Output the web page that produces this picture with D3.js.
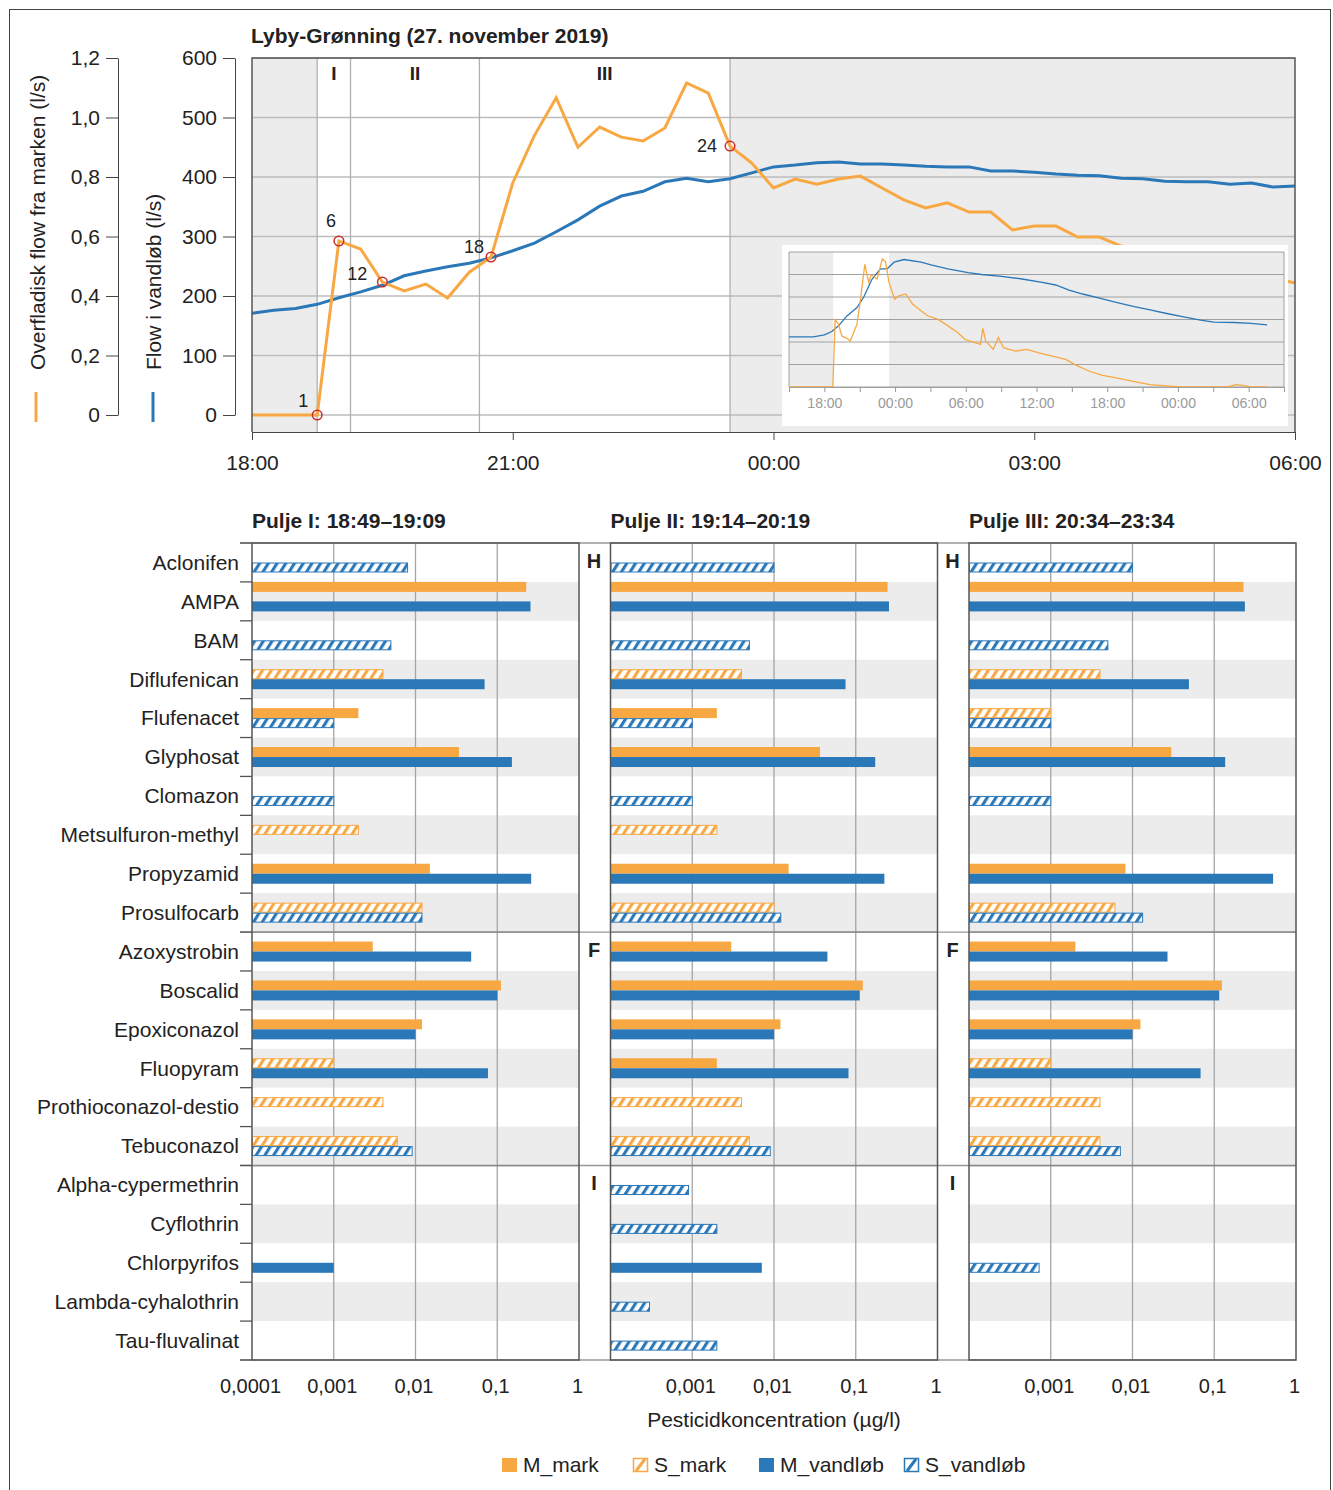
<!DOCTYPE html>
<html>
<head>
<meta charset="utf-8">
<title>Lyby-Grønning (27. november 2019)</title>
<script src="https://d3js.org/d3.v7.min.js"></script>
<style>
  body { margin: 0; background: #fff; }
  svg { font-family: "Liberation Sans", Arial, sans-serif; }
  svg text { fill: #222; }
  .axis path, .axis line { stroke: #444; }
  .inset-axis line { stroke: #999; }
  .inset-axis text { fill: #999; }
</style>
</head>
<body>
<div id="chart"></div>
<script>
// ---- top chart: 15 min values from 18:00 (27 nov) to 06:00 (28 nov)
const flowStart = new Date(2019, 10, 27, 18, 0);
const stepMinutes = 15;
// Overfladisk flow fra marken (l/s)
const markFlow = [0, 0, 0, 0, 0.585, 0.558, 0.447, 0.417, 0.44, 0.393, 0.48, 0.531,
  0.78, 0.94, 1.066, 0.90, 0.968, 0.934, 0.921, 0.965, 1.116, 1.082, 0.904, 0.847,
  0.763, 0.793, 0.776, 0.793, 0.803, 0.763, 0.723, 0.696, 0.713, 0.682, 0.682, 0.622,
  0.635, 0.635, 0.598, 0.598, 0.568, 0.55, 0.54, 0.52, 0.51, 0.49, 0.48, 0.46, 0.444];
// Flow i vandløb (l/s)
const streamFlow = [171, 176, 179, 186, 197, 207, 218, 234, 242, 249, 255, 264,
  276, 289, 308, 328, 351, 368, 376, 392, 398, 392, 397, 407,
  417, 420, 424, 425, 422, 422, 420, 418, 417, 417, 410, 410,
  408, 405, 403, 402, 398, 397, 393, 392, 392, 388, 390, 383, 385];

const sampleTimes = ["18:45", "19:00", "19:30", "20:45", "23:30"];
const sampleLabels = ["1", "6", "12", "18", "24"];
const poolEdges = ["18:45", "19:08", "20:37", "23:30"];
const poolNames = ["I", "II", "III"];
const leftTicks = [0, 0.2, 0.4, 0.6, 0.8, 1.0, 1.2];
const rightTicks = [0, 100, 200, 300, 400, 500, 600];

// ---- inset: hours after 27 nov 00:00
const insetStreamHours = [15, 17.07, 18, 18.63, 19.2, 19.92, 20.77, 21.33, 22.05, 22.77, 23.33, 23.92,
  24.77, 26.2, 27.05, 28.48, 30.2, 31.33, 33.05, 34.77, 36.48, 37.63, 38.77, 39.92,
  41.35, 42.77, 44.2, 45.63, 47.05, 48.48, 49.92, 51.05, 52.77, 54.2, 55.57];
const insetStreamFlow = [167, 167, 174, 185, 204, 237, 265, 299, 360, 394, 394, 416,
  425, 416, 407, 394, 381, 375, 369, 360, 349, 340, 323, 310,
  296, 282, 269, 257, 245, 234, 223, 216, 215, 212, 207];
const insetMarkHours = [15, 18.72, 18.92, 19.2, 19.48, 19.92, 20.2, 20.77, 21.05, 21.43, 21.77, 21.97,
  22.48, 22.92, 23.2, 23.48, 23.97, 24.33, 24.92, 25.48, 26.2, 26.77, 27.62, 28.48,
  29.33, 29.92, 30.77, 31.25, 31.45, 31.68, 32.33, 32.77, 33.2, 34.2, 35.2, 36.2,
  37.33, 38.48, 39.33, 40.48, 41.62, 42.77, 44.2, 45.63, 47.63, 48.48, 52.2, 52.92,
  53.48, 54.2, 55.57];
const insetMarkFlow = [0, 0, 0.597, 0.558, 0.454, 0.433, 0.41, 0.558, 0.767, 1.09, 0.93, 0.997,
  0.96, 1.14, 1.11, 0.93, 0.78, 0.81, 0.827, 0.737, 0.678, 0.633, 0.603, 0.543,
  0.483, 0.424, 0.394, 0.379, 0.522, 0.409, 0.334, 0.439, 0.349, 0.319, 0.334, 0.304,
  0.275, 0.245, 0.194, 0.14, 0.104, 0.081, 0.051, 0.021, 0.006, 0, 0, 0.021,
  0.015, 0, 0];

// ---- bar panels
const compounds = ["Aclonifen", "AMPA", "BAM", "Diflufenican", "Flufenacet", "Glyphosat",
  "Clomazon", "Metsulfuron-methyl", "Propyzamid", "Prosulfocarb", "Azoxystrobin", "Boscalid",
  "Epoxiconazol", "Fluopyram", "Prothioconazol-destio", "Tebuconazol", "Alpha-cypermethrin",
  "Cyflothrin", "Chlorpyrifos", "Lambda-cyhalothrin", "Tau-fluvalinat"];
const groupNames = ["H", "F", "I"];
const groupStarts = ["Aclonifen", "Azoxystrobin", "Alpha-cypermethrin"];
const poolTitles = ["Pulje I: 18:49–19:09", "Pulje II: 19:14–20:19", "Pulje III: 20:34–23:34"];
const concTicks = [0.0001, 0.001, 0.01, 0.1, 1];
const seriesKeys = ["M_mark", "S_mark", "M_vandløb", "S_vandløb"];

const n = null;
const pool1MMark = [n, 0.226, n, n, 0.002, 0.034, n, n, 0.015, n, 0.003, 0.111, 0.012, n, n, n, n, n, n, n, n];
const pool1SMark = [n, n, n, 0.004, n, n, n, 0.002, n, 0.012, n, n, n, 0.001, 0.004, 0.006, n, n, n, n, n];
const pool1MVand = [n, 0.255, n, 0.07, n, 0.151, n, n, 0.26, n, 0.048, 0.1, 0.01, 0.077, n, n, n, n, 0.001, n, n];
const pool1SVand = [0.008, n, 0.005, n, 0.001, n, 0.001, n, n, 0.012, n, n, n, n, n, 0.0091, n, n, n, n, n];

const pool2MMark = [n, 0.245, n, n, 0.002, 0.0365, n, n, 0.0151, n, 0.003, 0.122, 0.012, 0.002, n, n, n, n, n, n, n];
const pool2SMark = [n, n, n, 0.004, n, n, n, 0.002, n, 0.01, n, n, n, n, 0.004, 0.005, n, n, n, n, n];
const pool2MVand = [n, 0.255, n, 0.075, n, 0.173, n, n, 0.224, n, 0.045, 0.112, 0.01, 0.0815, n, n, n, n, 0.0071, n, n];
const pool2SVand = [0.01, n, 0.005, n, 0.001, n, 0.001, n, n, 0.0121, n, n, n, n, n, 0.009, 0.0009, 0.002, n, 0.0003, 0.002];

const pool3MMark = [n, 0.228, n, n, n, 0.0298, n, n, 0.0082, n, 0.002, 0.124, 0.0125, n, n, n, n, n, n, n, n];
const pool3SMark = [n, n, n, 0.004, 0.001, n, n, n, n, 0.0061, n, n, n, 0.001, 0.004, 0.004, n, n, n, n, n];
const pool3MVand = [n, 0.237, n, 0.049, n, 0.136, n, n, 0.525, n, 0.0268, 0.115, 0.01, 0.068, n, n, n, n, n, n, n];
const pool3SVand = [0.01, n, 0.005, n, 0.001, n, 0.001, n, n, 0.0133, n, n, n, n, n, 0.0071, n, n, 0.00072, n, n];

const pools = [
  {M_mark: pool1MMark, S_mark: pool1SMark, "M_vandløb": pool1MVand, "S_vandløb": pool1SVand},
  {M_mark: pool2MMark, S_mark: pool2SMark, "M_vandløb": pool2MVand, "S_vandløb": pool2SVand},
  {M_mark: pool3MMark, S_mark: pool3SMark, "M_vandløb": pool3MVand, "S_vandløb": pool3SVand}
];

// ---- drawing
const ORANGE = "#f8a842";
const BLUE = "#2b78b9";
const SHADE = "#ececec";
const FONT = 21;
const comma = d => String(d).replace(".", ",");
const atClock = s => { const [h, m] = s.split(":").map(Number); return new Date(2019, 10, 27, h, m); };

const svg = d3.select("#chart").append("svg")
  .attr("width", 1333).attr("height", 1490);

svg.append("rect").attr("x", 9.5).attr("y", 9.5).attr("width", 1321).attr("height", 1500)
  .attr("fill", "none").attr("stroke", "#444").attr("stroke-width", 1);

const defs = svg.append("defs");
[["orange", ORANGE], ["blue", BLUE]].forEach(([id, col]) => {
  const p = defs.append("pattern").attr("id", "hatch-" + id)
    .attr("patternUnits", "userSpaceOnUse").attr("width", 7.4).attr("height", 10)
    .attr("patternTransform", "rotate(32)");
  p.append("rect").attr("width", 7.4).attr("height", 10).attr("fill", "#fff");
  p.append("rect").attr("width", 3.1).attr("height", 10).attr("fill", col);
});

// ===== top chart =====
const times = markFlow.map((_, i) => d3.timeMinute.offset(flowStart, i * stepMinutes));
const x = d3.scaleTime().domain([flowStart, new Date(2019, 10, 28, 6, 0)]).range([252, 1295]);
const yStream = d3.scaleLinear().domain([0, 600]).range([415, 58]);
const yMark = d3.scaleLinear().domain([0, 1.2]).range([415, 58]);
const plotTop = 58, plotBottom = 432;

const topG = svg.append("g");
topG.append("text").attr("x", 251).attr("y", 43).attr("font-size", FONT).attr("font-weight", "bold")
  .text("Lyby-Grønning (27. november 2019)");

const firstEdge = x(atClock(poolEdges[0]));
const lastEdge = x(atClock(poolEdges[poolEdges.length - 1]));
topG.append("rect").attr("x", 252).attr("y", plotTop).attr("width", firstEdge - 252)
  .attr("height", plotBottom - plotTop).attr("fill", SHADE);
topG.append("rect").attr("x", lastEdge).attr("y", plotTop).attr("width", 1295 - lastEdge)
  .attr("height", plotBottom - plotTop).attr("fill", SHADE);

topG.selectAll(".hgrid").data(rightTicks).join("line")
  .attr("x1", 252).attr("x2", 1295)
  .attr("y1", d => yStream(d)).attr("y2", d => yStream(d))
  .attr("stroke", "#bdbdbd").attr("stroke-width", 1.3);

topG.selectAll(".vgrid").data(poolEdges).join("line")
  .attr("x1", d => x(atClock(d))).attr("x2", d => x(atClock(d)))
  .attr("y1", plotTop).attr("y2", plotBottom)
  .attr("stroke", "#b0b0b0").attr("stroke-width", 1.3);

topG.selectAll(".pool").data(poolNames).join("text")
  .attr("x", (d, i) => (x(atClock(poolEdges[i])) + x(atClock(poolEdges[i + 1]))) / 2)
  .attr("y", 80).attr("text-anchor", "middle").attr("font-size", 19).attr("font-weight", "bold")
  .text(d => d);

topG.append("path").datum(streamFlow)
  .attr("fill", "none").attr("stroke", BLUE).attr("stroke-width", 3)
  .attr("d", d3.line().x((d, i) => x(times[i])).y(d => yStream(d)));
topG.append("path").datum(markFlow)
  .attr("fill", "none").attr("stroke", ORANGE).attr("stroke-width", 3)
  .attr("d", d3.line().x((d, i) => x(times[i])).y(d => yMark(d)));

// inset
const insetBase = new Date(2019, 10, 27, 0, 0);
const hrs = h => d3.timeMinute.offset(insetBase, Math.round(h * 60));
const xi = d3.scaleTime().domain([hrs(15), hrs(57)]).range([789, 1284]);
const yiStream = d3.scaleLinear().domain([0, 450]).range([387, 252]);
const yiMark = d3.scaleLinear().domain([0, 1.2]).range([387, 252]);
const inset = topG.append("g");
inset.append("rect").attr("x", 782).attr("y", 245).attr("width", 506).attr("height", 181).attr("fill", "#fff");
inset.append("rect").attr("x", 789).attr("y", 252).attr("width", 495).attr("height", 135).attr("fill", SHADE);
inset.append("rect").attr("x", xi(atClock(poolEdges[0]))).attr("y", 252)
  .attr("width", xi(atClock(poolEdges[3])) - xi(atClock(poolEdges[0]))).attr("height", 135).attr("fill", "#fff");
inset.selectAll(".igrid").data(leftTicks).join("line")
  .attr("x1", 789).attr("x2", 1284).attr("y1", d => yiMark(d)).attr("y2", d => yiMark(d))
  .attr("stroke", "#a0a0a0").attr("stroke-width", 1);
inset.selectAll(".iside").data([789, 1284]).join("line")
  .attr("x1", d => d).attr("x2", d => d).attr("y1", 252).attr("y2", 387)
  .attr("stroke", "#a0a0a0").attr("stroke-width", 1);
inset.append("path").datum(insetStreamFlow)
  .attr("fill", "none").attr("stroke", BLUE).attr("stroke-width", 1.3)
  .attr("d", d3.line().x((d, i) => xi(hrs(insetStreamHours[i]))).y(d => yiStream(d)));
inset.append("path").datum(insetMarkFlow)
  .attr("fill", "none").attr("stroke", ORANGE).attr("stroke-width", 1.3)
  .attr("d", d3.line().x((d, i) => xi(hrs(insetMarkHours[i]))).y(d => yiMark(d)));
inset.append("g").attr("class", "inset-axis").attr("transform", "translate(0,387)")
  .call(d3.axisBottom(xi).ticks(d3.timeHour.every(3)).tickSize(5).tickSizeOuter(0).tickPadding(6)
    .tickFormat(d => d.getHours() % 6 === 0 ? d3.timeFormat("%H:%M")(d) : ""))
  .call(g => g.select(".domain").attr("stroke", "#a0a0a0"))
  .attr("font-size", 14).attr("font-family", "Liberation Sans, Arial, sans-serif");

// sample markers
const markerShift = {"1": [-14, -14], "6": [-8, -20], "12": [-25, -8], "18": [-17, -10], "24": [-23, 0]};
const samples = sampleTimes.map((t, i) => {
  const idx = times.findIndex(d => +d === +atClock(t));
  return {t: times[idx], v: markFlow[idx], label: sampleLabels[i]};
});
topG.selectAll(".sample").data(samples).join("circle")
  .attr("cx", d => x(d.t)).attr("cy", d => yMark(d.v)).attr("r", 4.8)
  .attr("fill", "none").attr("stroke", "#c8302c").attr("stroke-width", 1.5);
topG.selectAll(".sample-label").data(samples).join("text")
  .attr("x", d => x(d.t) + markerShift[d.label][0])
  .attr("y", d => yMark(d.v) + markerShift[d.label][1])
  .attr("dy", "0.35em").attr("text-anchor", "middle").attr("font-size", 18)
  .text(d => d.label);

// plot frame
topG.append("path")
  .attr("d", `M252,${plotBottom}V${plotTop}H1295V${plotBottom}`)
  .attr("fill", "none").attr("stroke", "#555").attr("stroke-width", 1.5);

// axes
topG.append("g").attr("class", "axis").attr("transform", `translate(0,${plotBottom})`)
  .call(d3.axisBottom(x).ticks(d3.timeHour.every(3)).tickFormat(d3.timeFormat("%H:%M"))
    .tickSize(8).tickSizeOuter(0).tickPadding(15))
  .attr("font-size", FONT).attr("font-family", "Liberation Sans, Arial, sans-serif");
topG.append("g").attr("class", "axis").attr("transform", "translate(118,0)")
  .call(d3.axisLeft(yMark).tickValues(leftTicks).tickSize(12).tickSizeOuter(0).tickPadding(6)
    .tickFormat(d => d === 0 ? "0" : d3.format(".1f")(d).replace(".", ",")))
  .attr("font-size", FONT).attr("font-family", "Liberation Sans, Arial, sans-serif");
topG.append("g").attr("class", "axis").attr("transform", "translate(235,0)")
  .call(d3.axisLeft(yStream).tickValues(rightTicks).tickSize(12).tickSizeOuter(0).tickPadding(6))
  .attr("font-size", FONT).attr("font-family", "Liberation Sans, Arial, sans-serif");

topG.append("text").attr("transform", "translate(45,370) rotate(-90)")
  .attr("font-size", FONT).text("Overfladisk flow fra marken (l/s)");
topG.append("text").attr("transform", "translate(161,370) rotate(-90)")
  .attr("font-size", FONT).text("Flow i vandløb (l/s)");
topG.append("line").attr("x1", 36).attr("x2", 36).attr("y1", 392).attr("y2", 422)
  .attr("stroke", ORANGE).attr("stroke-width", 3);
topG.append("line").attr("x1", 153).attr("x2", 153).attr("y1", 392).attr("y2", 422)
  .attr("stroke", BLUE).attr("stroke-width", 3);

// ===== bar panels =====
const panelLeft = [252, 610.5, 969];
const panelW = 327;
const yBand = d3.scaleBand().domain(compounds).range([543, 1360]).padding(0);
const bw = yBand.bandwidth();
const xc = d3.scaleLog().domain([0.0001, 1]).range([0, panelW]);
const raisedMark = new Set(["AMPA"]);

const bars = svg.append("g");
// light lines across the gaps
[543, 1360, yBand(groupStarts[1]), yBand(groupStarts[2])].forEach(yy => {
  bars.append("line").attr("x1", 240).attr("x2", 1296).attr("y1", yy).attr("y2", yy)
    .attr("stroke", "#999").attr("stroke-width", 1.3);
});

pools.forEach((pool, p) => {
  const g = bars.append("g").attr("transform", `translate(${panelLeft[p]},0)`);
  g.selectAll(".band").data(compounds.filter((c, i) => i % 2 === 1)).join("rect")
    .attr("x", 0).attr("y", d => yBand(d)).attr("width", panelW).attr("height", bw)
    .attr("fill", SHADE);
  g.selectAll(".grid").data(concTicks.slice(1, 4)).join("line")
    .attr("x1", d => xc(d)).attr("x2", d => xc(d)).attr("y1", 543).attr("y2", 1360)
    .attr("stroke", "#a5a5a5").attr("stroke-width", 1.3);
  g.selectAll(".sep").data(groupStarts.slice(1)).join("line")
    .attr("x1", 0).attr("x2", panelW).attr("y1", d => yBand(d)).attr("y2", d => yBand(d))
    .attr("stroke", "#888").attr("stroke-width", 1.5);

  seriesKeys.forEach(key => {
    const isMark = key.endsWith("mark");
    const hatched = key.startsWith("S_");
    const col = isMark ? ORANGE : BLUE;
    const rows = compounds.map((c, i) => ({c, v: pool[key][i]})).filter(d => d.v != null);
    g.selectAll(null).data(rows).join("rect")
      .attr("x", hatched ? 0.5 : 0)
      .attr("y", d => yBand(d.c) + (isMark ? (raisedMark.has(d.c) ? 0 : 9.5) : 19.5) + (hatched ? 0.5 : 0))
      .attr("width", d => xc(d.v) - (hatched ? 0.5 : 0))
      .attr("height", hatched ? 9 : 10)
      .attr("fill", hatched ? `url(#hatch-${isMark ? "orange" : "blue"})` : col)
      .attr("stroke", hatched ? col : "none").attr("stroke-width", 1);
  });

  g.append("rect").attr("x", 0).attr("y", 543).attr("width", panelW).attr("height", 817)
    .attr("fill", "none").attr("stroke", "#555").attr("stroke-width", 1.5);

  g.append("text").attr("x", 0).attr("y", 528).attr("font-size", FONT).attr("font-weight", "bold")
    .text(poolTitles[p]);

  g.append("g").attr("transform", "translate(-2,1360)")
    .call(d3.axisBottom(xc).tickValues(p === 0 ? concTicks : concTicks.slice(1))
      .tickFormat(comma).tickSize(0).tickPadding(19))
    .call(a => a.select(".domain").remove())
    .attr("font-size", 20).attr("font-family", "Liberation Sans, Arial, sans-serif");

  if (p > 0) {
    g.selectAll(".grp").data(groupNames).join("text")
      .attr("x", -16.5).attr("y", (d, i) => yBand(groupStarts[i]) + 25)
      .attr("text-anchor", "middle").attr("font-size", 20).attr("font-weight", "bold")
      .text(d => d);
  }
});

// category axis
bars.selectAll(".tick-b").data(d3.range(compounds.length + 1)).join("line")
  .attr("x1", 240).attr("x2", 252)
  .attr("y1", i => 543 + i * bw).attr("y2", i => 543 + i * bw)
  .attr("stroke", "#555").attr("stroke-width", 1.3);
bars.selectAll(".cat").data(compounds).join("text")
  .attr("x", 239).attr("y", d => yBand(d) + bw / 2).attr("dy", "0.35em")
  .attr("text-anchor", "end").attr("font-size", FONT)
  .text(d => d);

bars.append("text").attr("x", 774).attr("y", 1427).attr("text-anchor", "middle")
  .attr("font-size", FONT).text("Pesticidkoncentration (µg/l)");

// legend
const legendX = [502, 633, 759, 904];
const legend = svg.append("g");
seriesKeys.forEach((key, i) => {
  const col = key.endsWith("mark") ? ORANGE : BLUE;
  const lx = legendX[i];
  if (key.startsWith("S_")) {
    legend.append("rect").attr("x", lx + 0.5).attr("y", 1458.5).attr("width", 14).attr("height", 13)
      .attr("fill", "#fff").attr("stroke", col).attr("stroke-width", 1.5);
    legend.append("line").attr("x1", lx + 3).attr("y1", 1471).attr("x2", lx + 12).attr("y2", 1459)
      .attr("stroke", col).attr("stroke-width", 3);
  } else {
    legend.append("rect").attr("x", lx).attr("y", 1458).attr("width", 15).attr("height", 14).attr("fill", col);
  }
  legend.append("text").attr("x", lx + 21).attr("y", 1472).attr("font-size", FONT).text(key);
});
</script>
</body>
</html>
